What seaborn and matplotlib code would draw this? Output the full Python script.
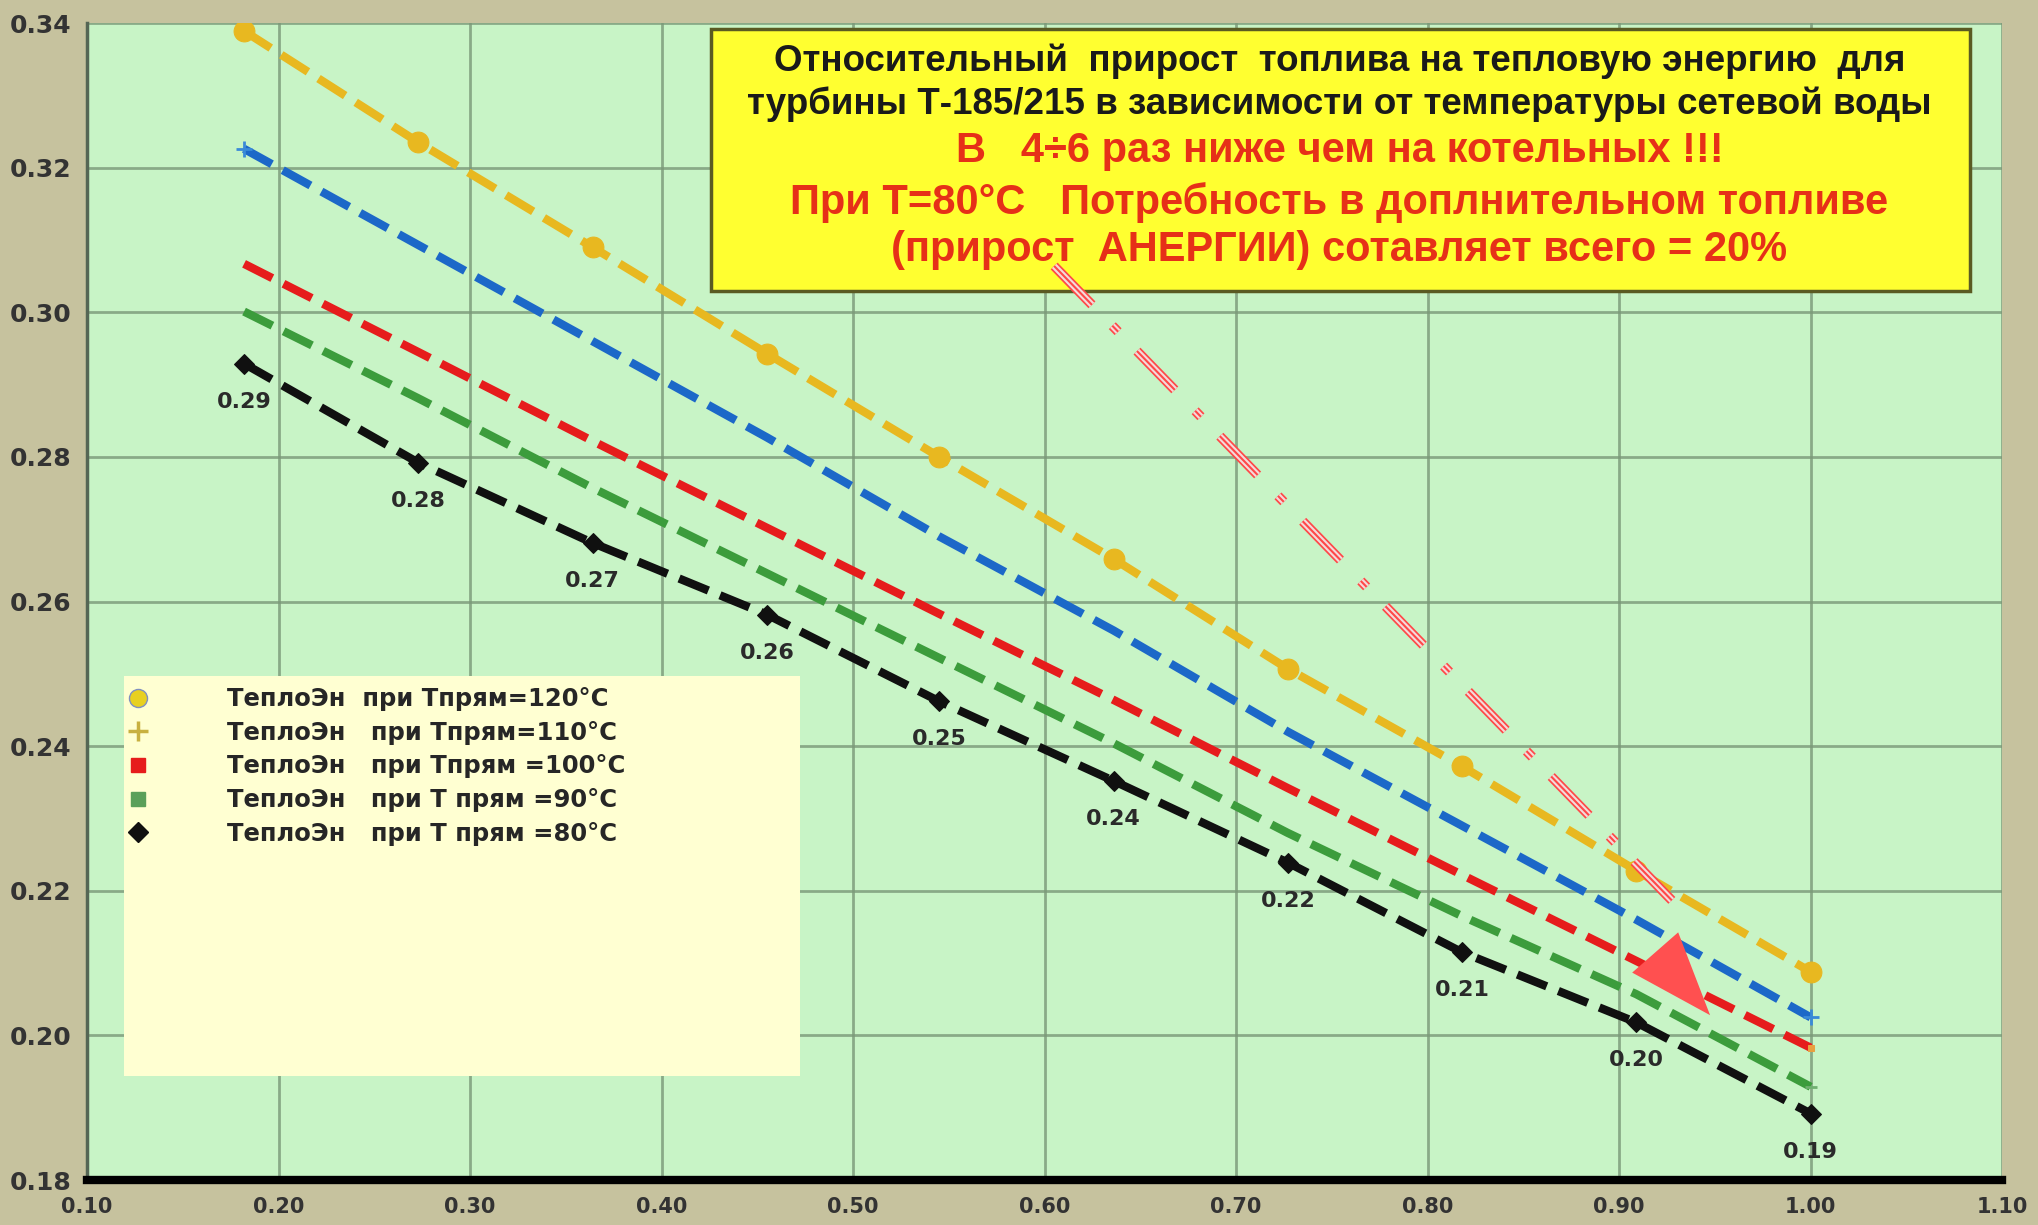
import matplotlib
matplotlib.use("Agg")
import matplotlib.pyplot as plt
import matplotlib.patheffects as pe
from matplotlib.lines import Line2D
from matplotlib.patches import Rectangle
import seaborn as sns

# data
x_vals = [0.182, 0.273, 0.364, 0.455, 0.545, 0.636, 0.727, 0.818, 0.909, 1.0]
t120 = [0.3389, 0.3235, 0.3090, 0.2943, 0.2800, 0.2659, 0.2507, 0.2372, 0.2228, 0.2088]
t110 = [0.3226, 0.3093, 0.2960, 0.2827, 0.2690, 0.2560, 0.2420, 0.2290, 0.2160, 0.2025]
t100 = [0.3067, 0.2945, 0.2822, 0.2702, 0.2583, 0.2464, 0.2342, 0.2222, 0.2103, 0.1983]
t90 = [0.3001, 0.2881, 0.2757, 0.2639, 0.2522, 0.2404, 0.2280, 0.2165, 0.2057, 0.1929]
t80 = [0.2929, 0.2792, 0.2681, 0.2582, 0.2462, 0.2352, 0.2239, 0.2115, 0.2018, 0.1892]

labels = ["ТеплоЭн  при Тпрям=120°С",
          "ТеплоЭн   при Тпрям=110°С",
          "ТеплоЭн   при Тпрям =100°С",
          "ТеплоЭн   при Т прям =90°С",
          "ТеплоЭн   при Т прям =80°С"]

title_black = ["Относительный  прирост  топлива на тепловую энергию  для",
               "турбины Т-185/215 в зависимости от температуры сетевой воды"]
title_red = ["В   4÷6 раз ниже чем на котельных !!!",
             "При Т=80°С   Потребность в доплнительном топливе",
             "(прирост  АНЕРГИИ) сотавляет всего = 20%"]

x_ticks = [0.10, 0.20, 0.30, 0.40, 0.50, 0.60, 0.70, 0.80, 0.90, 1.00, 1.10]
y_ticks = [0.18, 0.20, 0.22, 0.24, 0.26, 0.28, 0.30, 0.32, 0.34]

bg_fig = "#c6c29e"
bg_ax = "#c8f4c6"
c_yel = "#e8b820"
c_blue = "#1c68c8"
c_red = "#e61c1c"
c_green = "#3c9c3c"
c_black = "#101010"

sns.set_style("white")
plt.rcParams['font.family'] = ['DejaVu Sans']

fig = plt.figure(figsize=(20.38, 12.25), dpi=100, facecolor=bg_fig)
ax = fig.add_axes([0.0427, 0.0367, 0.9397, 0.9445])
ax.set_facecolor(bg_ax)

dash = (0, (3.8, 1.5))
series = [
    (t120, c_yel, dict(marker='o', markersize=15, markerfacecolor=c_yel, markeredgecolor=c_yel)),
    (t110, c_blue, dict(marker='+', markersize=12, markeredgewidth=2, markeredgecolor='#3a8ad8',
                        markevery=[0, 9])),
    (t100, c_red, dict(marker='s', markersize=5, markerfacecolor='#e8a040', markeredgecolor='#e8a040',
                       markevery=[9])),
    (t90, c_green, dict(marker='_', markersize=8, markeredgewidth=2, markeredgecolor='#70b070',
                        markevery=[9])),
    (t80, c_black, dict(marker='D', markersize=10, markerfacecolor=c_black, markeredgecolor=c_black)),
]
for vals, col, mk in series:
    sns.lineplot(x=x_vals, y=vals, ax=ax, color=col, linewidth=6,
                 linestyle=dash, zorder=3, **mk)

# value labels under the 80°C curve
for xv, yv in zip(x_vals, t80):
    ax.annotate(f"{yv:.2f}", (xv, yv), xytext=(0, -38), textcoords='offset pixels',
                ha='center', va='center', fontsize=16, fontweight='bold',
                color='#2a2a2a', zorder=5)

ax.set_xlim(0.10, 1.10)
ax.set_ylim(0.18, 0.34)
ax.set_xticks(x_ticks)
ax.set_yticks(y_ticks)
ax.set_xticklabels([f"{v:.2f}" for v in x_ticks], fontsize=15, fontweight='bold', color='#333333')
ax.set_yticklabels([f"{v:.2f}" for v in y_ticks], fontsize=18, fontweight='bold', color='#333333')
ax.tick_params(axis='x', direction='out', length=9, width=2.5, color='black', pad=3)
ax.tick_params(axis='y', direction='out', length=8, width=1.5, color='#556655', pad=3)
ax.grid(True, color='#7a9878', linewidth=2, alpha=0.8)
ax.set_axisbelow(True)
for s in ['top', 'right']:
    ax.spines[s].set_visible(False)
ax.spines['bottom'].set_color('black')
ax.spines['bottom'].set_linewidth(6)
ax.spines['left'].set_color('#556655')
ax.spines['left'].set_linewidth(2.5)

# title box
ax.add_patch(Rectangle((0.326, 0.768), 0.657, 0.227, transform=ax.transAxes,
                       facecolor='#ffff30', edgecolor='#5a5a22', linewidth=2.5, zorder=6))
ty = [0.967, 0.930]
for t, y in zip(title_black, ty):
    ax.text(0.654, y, t, transform=ax.transAxes, ha='center', va='center',
            fontsize=26.5, fontweight='bold', color='#1a1a1a', family='Liberation Sans', zorder=7)
ty = [0.889, 0.845, 0.804]
for t, y in zip(title_red, ty):
    ax.text(0.654, y, t, transform=ax.transAxes, ha='center', va='center',
            fontsize=30, fontweight='bold', color='#e63018', family='Liberation Sans', zorder=7)

# legend box
ax.add_patch(Rectangle((0.0193, 0.090), 0.353, 0.346, transform=ax.transAxes,
                       facecolor='#ffffd2', edgecolor='none', zorder=6))
handles = [
    Line2D([], [], linestyle='none', marker='o', markersize=13, markerfacecolor='#e8d020', markeredgecolor='#8090c0'),
    Line2D([], [], linestyle='none', marker='+', markersize=14, markeredgewidth=2.5, markeredgecolor='#c8b040'),
    Line2D([], [], linestyle='none', marker='s', markersize=10, markerfacecolor=c_red, markeredgecolor=c_red),
    Line2D([], [], linestyle='none', marker='s', markersize=10, markerfacecolor='#5aa05a', markeredgecolor='#5aa05a'),
    Line2D([], [], linestyle='none', marker='D', markersize=10, markerfacecolor=c_black, markeredgecolor=c_black),
]
leg = ax.legend(handles, labels, loc='upper left', bbox_to_anchor=(0.0075, 0.445),
                frameon=False, handlelength=1.2, handletextpad=3.05, labelspacing=0.40,
                prop={'size': 17.5, 'weight': 'bold'})
for t in leg.get_texts():
    t.set_color('#262626')
leg.set_zorder(8)

# red guide arrow
a_start = (0.605, 0.3064)
a_notch = (0.930, 0.2180)
a_tip = (0.9475, 0.2028)
ax.plot([a_start[0], a_notch[0]], [a_start[1], a_notch[1]], color='#ff4848',
        linewidth=1.5, linestyle=(0, (26, 14, 4, 13)), zorder=9,
        path_effects=[pe.Stroke(linewidth=7, foreground='#ff4848'),
                      pe.Stroke(linewidth=4.5, foreground='#f4dada'),
                      pe.Normal()])
ax.annotate('', xy=a_tip, xytext=a_start,
            arrowprops=dict(arrowstyle='-|>,head_length=1.5,head_width=0.55',
                            mutation_scale=40, color='#ff5050', linewidth=0,
                            shrinkA=0, shrinkB=0), zorder=9)

fig.savefig('out.png', dpi=100, facecolor=bg_fig)
